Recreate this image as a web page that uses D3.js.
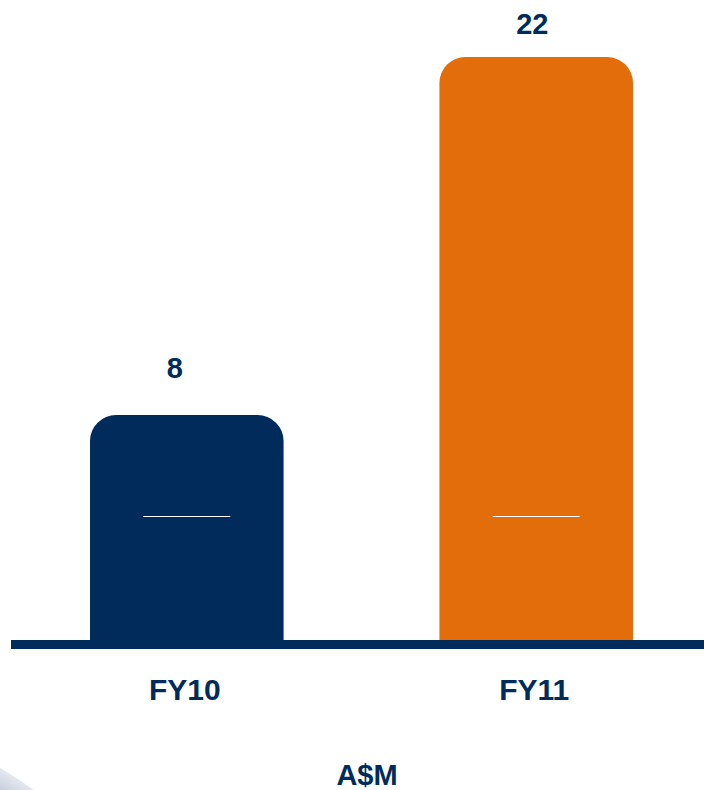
<!DOCTYPE html>
<html>
<head>
<meta charset="utf-8">
<script src="https://cdn.jsdelivr.net/npm/d3@7"></script>
<style>
  html, body { margin: 0; padding: 0; background: #ffffff; }
  svg { display: block; }
  text { font-family: "Liberation Sans", Arial, sans-serif; font-weight: bold; }
</style>
</head>
<body>
<svg id="chart" width="704" height="790"></svg>
<script>
// ---- data ----
const categories = ["FY10", "FY11"];
const values = [8.49, 22];
const barColors = ["#002b5a", "#e36c0b"];
const unitLabel = "A$M";

// ---- layout ----
const W = 704, H = 790;
const baseY = 640;
const navy = "#002b5a";

const svg = d3.select("#chart");

// faint swoosh bottom-left
const defs = svg.append("defs");
const grad = defs.append("linearGradient").attr("id", "sw")
  .attr("x1", "0").attr("y1", "1").attr("x2", "1").attr("y2", "0");
grad.append("stop").attr("offset", "0").attr("stop-color", "#c9cfe0");
grad.append("stop").attr("offset", "1").attr("stop-color", "#ffffff");
svg.append("path")
  .attr("d", "M0,768 Q14,776 34,790 L0,790 Z")
  .attr("fill", "url(#sw)");

const x = d3.scaleBand()
  .domain(categories)
  .range([90, 633])
  .paddingInner(0.446)
  .paddingOuter(0);

const y = d3.scaleLinear()
  .domain([0, 22])
  .range([baseY, 57]);

const r = 26;
function topRounded(x0, w, yTop, yBot, rad) {
  const rr = Math.min(rad, w / 2, (yBot - yTop));
  return `M${x0},${yBot} V${yTop + rr} A${rr},${rr} 0 0 1 ${x0 + rr},${yTop} ` +
         `H${x0 + w - rr} A${rr},${rr} 0 0 1 ${x0 + w},${yTop + rr} V${yBot} Z`;
}

const data = categories.map((c, i) => ({ cat: c, v: values[i], color: barColors[i] }));

svg.append("g").selectAll("path.bar")
  .data(data).join("path")
  .attr("class", "bar")
  .attr("d", d => topRounded(x(d.cat), x.bandwidth(), y(d.v), baseY + 2, r))
  .attr("fill", d => d.color);

// thin white line inside each bar
svg.append("g").selectAll("line")
  .data(data).join("line")
  .attr("x1", d => x(d.cat) + x.bandwidth() / 2 - 43.5)
  .attr("x2", d => x(d.cat) + x.bandwidth() / 2 + 43.5)
  .attr("y1", 516.5).attr("y2", 516.5)
  .attr("stroke", "#ffffff").attr("stroke-width", 1.2);

// value labels (left-aligned from a point just left of bar centre)
const fmt = d3.format(".0f");
svg.append("g").selectAll("text")
  .data(data).join("text")
  .attr("x", d => x(d.cat) + x.bandwidth() / 2 - 20)
  .attr("y", d => Math.max(y(d.v) - 37, 34))
  .attr("text-anchor", "start")
  .attr("font-size", 29)
  .attr("fill", navy)
  .text(d => fmt(d.v));

// baseline
svg.append("rect")
  .attr("x", 11).attr("y", baseY)
  .attr("width", W - 11).attr("height", 9)
  .attr("fill", navy);

// category labels
svg.append("g").selectAll("text")
  .data(categories).join("text")
  .attr("x", d => x(d) + x.bandwidth() / 2 - 2)
  .attr("y", 700)
  .attr("text-anchor", "middle")
  .attr("font-size", 30)
  .attr("fill", navy)
  .text(d => d);

// unit label
svg.append("text")
  .attr("x", 367).attr("y", 785)
  .attr("text-anchor", "middle")
  .attr("font-size", 29)
  .attr("fill", navy)
  .text(unitLabel);
</script>
</body>
</html>
